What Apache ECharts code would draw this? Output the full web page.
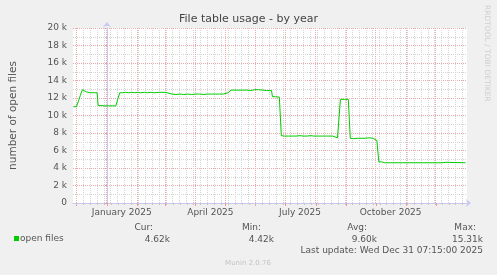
<!DOCTYPE html>
<html>
<head>
<meta charset="utf-8">
<script src="https://cdn.jsdelivr.net/npm/echarts@6/dist/echarts.min.js"></script>
<style>
  html, body { margin: 0; padding: 0; background: #f0f0f0; }
  #chart { width: 497px; height: 275px; }
</style>
</head>
<body>
<div id="chart"></div>
<script>
// ---- data (days relative to 1 Jan 2025) ----
const dayOffsets = [
  -34, -31, -29, -27, -25, -23, -21, -19, -17, -15, -13, -11, -10, -9, -7, -2, 3, 9, 11, 13,
  16, 19, 22, 25, 28, 31, 34, 38, 41, 44, 48, 53, 58, 61, 63, 66, 70, 74, 78, 82,
  86, 90, 94, 98, 102, 106, 110, 114, 118, 120, 123, 126, 130, 134, 138, 142, 146, 150, 154, 158,
  162, 167, 168, 171, 175, 177, 180, 184, 188, 192, 196, 199, 201, 203, 207, 210, 214, 218, 223, 229,
  230, 234, 236, 237, 241, 245, 247, 250, 254, 258, 262, 266, 268, 270, 272, 274, 275, 276, 279, 282,
  288, 300, 320, 340, 344, 346, 364
];
const openFiles = [
  11000, 11000, 11050, 12300, 12950, 13000, 12700, 12650, 12600, 12650, 12600, 12650, 12600, 11150, 11100, 11100, 11100, 11100, 11900, 12600,
  12600, 12650, 12600, 12650, 12600, 12650, 12600, 12650, 12600, 12650, 12600, 12650, 12650, 12600, 12450, 12450, 12400, 12450, 12400, 12450,
  12400, 12450, 12450, 12400, 12450, 12450, 12450, 12450, 12450, 12550, 12600, 12900, 12900, 12900, 12900, 12900, 12850, 12950, 12950, 12900,
  12850, 12850, 12150, 12150, 12100, 7700, 7650, 7650, 7650, 7650, 7700, 7650, 7750, 7650, 7700, 7650, 7650, 7650, 7650, 7650,
  7450, 7450, 7500, 11850, 11850, 11850, 7400, 7350, 7400, 7400, 7400, 7450, 7500, 7400, 7300, 7150, 7100, 4700, 4700, 4600,
  4600, 4600, 4600, 4600, 4650, 4600, 4600
];
const monthStarts = [-31, 0, 31, 59, 90, 120, 151, 181, 212, 243, 273, 304, 334];
const labelDays = [15, 105, 196, 288];
const labelTexts = ['January 2025', 'April 2025', 'July 2025', 'October 2025'];
const statHeaders = ['Cur:', 'Min:', 'Avg:', 'Max:'];
const statValues = ['4.62k', '4.42k', '9.60k', '15.31k'];
const seriesName = 'open files';
const titleText = 'File table usage - by year';
const yAxisTitle = 'number of open files';
const lastUpdate = 'Last update: Wed Dec 31 07:15:00 2025';
const watermark = 'RRDTOOL / TOBI OETIKER';
const footer = 'Munin 2.0.76';

// weekly (Sunday) minor grid positions
const weekLines = [];
for (let d = -31; d <= 364; d += 7) weekLines.push(d);

const FONT = 'DejaVu Sans';
const X_MIN = -34.5, X_MAX = 365.5;
const AXIS_BLUE = '#c8c8f2';
const GRID_RED = '#eeaaaa';
const GRID_GREY = '#d4d4d4';

const chart = echarts.init(document.getElementById('chart'), null, { renderer: 'canvas' });

const headerRight = [153, 261, 367, 476];
const valueRight = [170, 274, 377, 483];
const graphics = [];
statHeaders.forEach((t, i) => graphics.push({
  type: 'text', x: headerRight[i], y: 227.7,
  style: { text: t, fill: '#555', font: '9px "' + FONT + '"', textAlign: 'right', textVerticalAlign: 'middle' }
}));
statValues.forEach((t, i) => graphics.push({
  type: 'text', x: valueRight[i], y: 239.3,
  style: { text: t, fill: '#555', font: '9px "' + FONT + '"', textAlign: 'right', textVerticalAlign: 'middle' }
}));
graphics.push({
  type: 'text', x: 483, y: 251,
  style: { text: lastUpdate, fill: '#555', font: '9px "' + FONT + '"', textAlign: 'right', textVerticalAlign: 'middle' }
});
graphics.push({
  type: 'text', x: 248, y: 262.7,
  style: { text: footer, fill: '#c4c4c4', font: '7px "' + FONT + '"', textAlign: 'center', textVerticalAlign: 'middle' }
});
graphics.push({
  type: 'text', x: 487, y: 5, rotation: -Math.PI / 2,
  style: { text: watermark, fill: '#cfcfcf', font: '7.5px "' + FONT + '"', textAlign: 'left', textVerticalAlign: 'middle' }
});

function vGrid(color) {
  return function (params, api) {
    const cs = params.coordSys;
    const x = Math.floor(api.coord([api.value(0), 0])[0]) + 0.5;
    return {
      type: 'line', silent: true,
      shape: { x1: x, y1: cs.y, x2: x, y2: cs.y + cs.height },
      style: { stroke: color, lineWidth: 1, lineDash: [1, 1] }
    };
  };
}

const option = {
  animation: false,
  backgroundColor: '#f0f0f0',
  textStyle: { fontFamily: FONT },
  title: {
    text: titleText, left: 'center', top: 14, padding: 0,
    textStyle: { fontFamily: FONT, fontSize: 11, fontWeight: 'normal', color: '#444' }
  },
  legend: {
    data: [{ name: seriesName, icon: 'rect' }],
    left: 14, top: 234, padding: 0,
    itemWidth: 5, itemHeight: 5,
    textStyle: { fontFamily: FONT, fontSize: 9, color: '#555', padding: [0, 0, 0, -4] }
  },
  grid: {
    left: 67, top: 28, width: 400, height: 175,
    show: true, backgroundColor: '#ffffff', borderWidth: 0
  },
  xAxis: [
    {
      type: 'value', min: X_MIN, max: X_MAX, position: 'bottom',
      axisLine: { show: true, lineStyle: { color: AXIS_BLUE, width: 1 },
        symbol: ['none', 'arrow'], symbolSize: [6, 5], symbolOffset: [0, 4] },
      axisTick: { show: true, customValues: monthStarts, length: 3, lineStyle: { color: '#e99' } },
      axisLabel: {
        show: true, customValues: labelDays, margin: 5,
        fontFamily: FONT, fontSize: 9, color: '#555',
        formatter: v => { const i = labelDays.indexOf(Math.round(v)); return i >= 0 ? labelTexts[i] : ''; }
      },
      splitLine: { show: false }
    },
    {
      type: 'value', min: X_MIN, max: X_MAX, position: 'bottom', offset: 0,
      axisLine: { show: false },
      axisTick: { show: true, customValues: weekLines, length: 2, lineStyle: { color: '#c4c4c4' } },
      axisLabel: { show: false },
      splitLine: { show: false }
    }
  ],
  yAxis: {
    type: 'value', min: 0, max: 20000, interval: 2000,
    axisLine: { show: true, lineStyle: { color: AXIS_BLUE, width: 1 },
      symbol: ['none', 'arrow'], symbolSize: [6, 5], symbolOffset: [0, 6] },
    axisTick: { show: true, length: 2, lineStyle: { color: '#e99' } },
    minorTick: { show: true, splitNumber: 2, length: 2, lineStyle: { color: '#c4c4c4' } },
    splitLine: { show: true, lineStyle: { color: GRID_RED, type: 'dotted', width: 1 } },
    minorSplitLine: { show: true, lineStyle: { color: GRID_GREY, type: 'dotted', width: 1 } },
    axisLabel: {
      margin: 6, fontFamily: FONT, fontSize: 9, color: '#555',
      formatter: v => v === 0 ? '0' : (v / 1000) + ' k'
    },
    name: yAxisTitle, nameLocation: 'middle', nameGap: 54, nameRotate: 90,
    nameTextStyle: { fontFamily: FONT, fontSize: 10.5, color: '#555' }
  },
  series: [
    {
      type: 'custom', silent: true, z: 1, clip: false,
      renderItem: vGrid(GRID_GREY),
      encode: { x: 0, y: 1 },
      data: weekLines.map(d => [d, 0])
    },
    {
      type: 'custom', silent: true, z: 2, clip: false,
      renderItem: vGrid(GRID_RED),
      encode: { x: 0, y: 1 },
      data: monthStarts.map(d => [d, 0])
    },
    {
      name: seriesName, type: 'line', z: 5,
      showSymbol: false, symbol: 'none',
      color: '#00cc00',
      lineStyle: { color: '#00cc00', width: 1 },
      data: dayOffsets.map((d, i) => [d, openFiles[i]])
    }
  ],
  graphic: graphics
};
chart.setOption(option);
</script>
</body>
</html>
